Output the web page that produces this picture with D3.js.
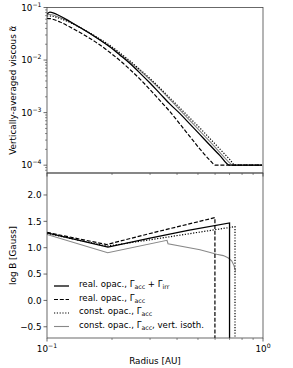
<!DOCTYPE html>
<html><head><meta charset="utf-8">
<script src="https://cdn.jsdelivr.net/npm/d3@7"></script>
<style>body{margin:0;background:#fff}svg{display:block}text{font-family:"DejaVu Sans",sans-serif;fill:#000}</style>
</head><body><svg id="c" width="293" height="368"></svg>
<script>
// ---- data (top panel: vertically-averaged viscous alpha) ----
const rTopRealIrr = [0.1,0.1032,0.1149,0.1278,0.1422,0.1582,0.176,0.1958,0.2178,0.2423,0.2695,0.2998,0.3336,0.3711,0.4128,0.4592,0.5109,0.5683,0.6322,0.70,0.99];
const alphaRealIrr = [0.0752,0.082,0.0689,0.0541,0.0416,0.032,0.024,0.0177,0.0124,0.00857,0.00565,0.00365,0.0023,0.00145,0.000957,0.000604,0.000381,0.00024,0.000152,0.0001,0.0001];
const rTopRealAcc = [0.1,0.1032,0.1149,0.1278,0.1422,0.1582,0.176,0.1958,0.2178,0.2423,0.2695,0.2998,0.3336,0.3711,0.4128,0.4592,0.5109,0.5683,0.603,0.99];
const alphaRealAcc = [0.0623,0.0615,0.0529,0.0425,0.0334,0.0257,0.0193,0.0139,0.00977,0.00659,0.00434,0.00274,0.00169,0.00104,0.000604,0.000349,0.000202,0.000124,0.0001,0.0001];
const rTopConst = [0.1,0.1032,0.1149,0.1278,0.1422,0.1582,0.176,0.1958,0.2178,0.2423,0.2695,0.2998,0.3336,0.3711,0.4128,0.4592,0.5109,0.5683,0.6322,0.7033,0.742,0.99];
const alphaConst = [0.0689,0.0689,0.0617,0.0518,0.0416,0.0327,0.0251,0.0189,0.0136,0.00957,0.00659,0.00445,0.00293,0.00189,0.00122,0.000786,0.000507,0.00032,0.000202,0.000127,0.0001,0.0001];
const rTopIsoth = [0.1,0.1032,0.1149,0.1278,0.1422,0.1582,0.176,0.1958,0.2178,0.2423,0.2695,0.2998,0.3336,0.3711,0.4128,0.4592,0.5109,0.5683,0.6322,0.7033,0.72,0.99];
const alphaIsoth = [0.0736,0.0736,0.0645,0.0529,0.0416,0.032,0.024,0.0181,0.013,0.00916,0.00631,0.00425,0.00281,0.00177,0.00112,0.000705,0.000445,0.000281,0.000173,0.000109,0.0001,0.0001];

// ---- data (bottom panel: log B [Gauss]) ----
const rBotRealIrr = [0.1,0.1915,0.30,0.45,0.70,0.70];
const logBRealIrr = [1.28,1.01,1.18,1.33,1.47,-2];
const rBotRealAcc = [0.1,0.189,0.30,0.599,0.599];
const logBRealAcc = [1.29,1.06,1.27,1.57,-2];
const rBotConst = [0.1,0.19,0.30,0.716,0.742,0.742];
const logBConst = [1.27,1.03,1.15,1.39,1.40,-2];
const rBotIsoth = [0.1,0.191,0.3594,0.3633,0.5109,0.6103,0.6549,0.6887,0.7161,0.7341,0.7459];
const logBIsoth = [1.25,0.905,1.14,1.075,0.96,0.875,0.85,0.81,0.75,0.66,0.56];

const legendLabels = [
  [["real. opac., Γ",""],["acc","sub"],[" + Γ",""],["irr","sub"]],
  [["real. opac., Γ",""],["acc","sub"]],
  [["const. opac., Γ",""],["acc","sub"]],
  [["const. opac., Γ",""],["acc","sub"],[", vert. isoth.",""]]
];
const topTickLabels = ["−1","−2","−3","−4"];
const bottomTickValues = [2.0,1.5,1.0,0.5,0.0,-0.5];
const xTickLabels = ["−1","0"];

// ---- styles ----
const styles = [
  {color:"#000", width:1.3, dash:null},
  {color:"#000", width:1.2, dash:"4,1.8"},
  {color:"#000", width:1.2, dash:"1.2,1.6"},
  {color:"#888", width:1.1, dash:null}
];

const svg = d3.select("#c");
const L = 47, R = 263, T1 = 7.5, B1 = 173, T2 = 173, B2 = 338;
const x = d3.scaleLog().domain([0.1,1]).range([L,R]);
const yTop = d3.scaleLog().domain([7.1e-5,0.1]).range([B1,T1]);
const yBot = d3.scaleLinear().domain([-0.713,2.417]).range([B2,T2]);
const fs = 8.8;

const defs = svg.append("defs");
defs.append("clipPath").attr("id","c1").append("rect").attr("x",L).attr("y",T1).attr("width",R-L).attr("height",B1-T1);
defs.append("clipPath").attr("id","c2").append("rect").attr("x",L).attr("y",T2).attr("width",R-L).attr("height",B2-T2);

function drawSeries(g, rs, vs, y, st, curve){
  const line = d3.line().x(d=>x(d[0])).y(d=>y(d[1])).curve(curve||d3.curveLinear);
  g.append("path").attr("d", line(rs.map((r,i)=>[r,vs[i]])))
    .attr("fill","none").attr("stroke",st.color).attr("stroke-width",st.width)
    .attr("stroke-dasharray",st.dash).attr("stroke-linejoin","miter");
}

// top panel
const g1 = svg.append("g").attr("clip-path","url(#c1)");
drawSeries(g1, rTopIsoth, alphaIsoth, yTop, styles[3], d3.curveMonotoneX);
drawSeries(g1, rTopConst, alphaConst, yTop, styles[2], d3.curveMonotoneX);
drawSeries(g1, rTopRealAcc, alphaRealAcc, yTop, styles[1], d3.curveMonotoneX);
drawSeries(g1, rTopRealIrr, alphaRealIrr, yTop, styles[0], d3.curveMonotoneX);

// bottom panel
const g2 = svg.append("g").attr("clip-path","url(#c2)");
drawSeries(g2, rBotIsoth, logBIsoth, yBot, styles[3]);
drawSeries(g2, rBotConst, logBConst, yBot, styles[2]);
drawSeries(g2, rBotRealAcc, logBRealAcc, yBot, styles[1]);
drawSeries(g2, rBotRealIrr, logBRealIrr, yBot, styles[0]);

// frames
const axColor = "#444";
[[T1,B1],[T2,B2]].forEach(([t,b])=>{
  svg.append("rect").attr("x",L).attr("y",t).attr("width",R-L).attr("height",b-t)
    .attr("fill","none").attr("stroke",axColor).attr("stroke-width",0.8);
});

// x ticks
const minorX = [0.2,0.3,0.4,0.5,0.6,0.7,0.8,0.9];
[B1,B2].forEach(yb=>{
  [0.1,1].forEach(v=>svg.append("line").attr("x1",x(v)).attr("x2",x(v)).attr("y1",yb).attr("y2",yb+3.5).attr("stroke",axColor).attr("stroke-width",0.8));
  minorX.forEach(v=>svg.append("line").attr("x1",x(v)).attr("x2",x(v)).attr("y1",yb).attr("y2",yb+2).attr("stroke",axColor).attr("stroke-width",0.6));
});
[0.1,1].forEach((v,i)=>{
  const t = svg.append("text").attr("x",x(v)).attr("y",B2+14).attr("text-anchor","middle").attr("font-size",fs);
  t.append("tspan").text("10");
  t.append("tspan").attr("dy",-4).attr("font-size",fs*0.7).text(xTickLabels[i]);
});

// top y ticks
[0.1,0.01,0.001,0.0001].forEach((v,i)=>{
  svg.append("line").attr("x1",L-3.5).attr("x2",L).attr("y1",yTop(v)).attr("y2",yTop(v)).attr("stroke",axColor).attr("stroke-width",0.8);
  const t = svg.append("text").attr("x",L-5.5).attr("y",yTop(v)+3.2).attr("text-anchor","end").attr("font-size",fs);
  t.append("tspan").text("10");
  t.append("tspan").attr("dy",-4).attr("font-size",fs*0.7).text(topTickLabels[i]);
});
[-5,-4,-3,-2].forEach(e=>{
  for(let m=2;m<=9;m++){
    const v = m*Math.pow(10,e);
    if(v<7.1e-5||v>0.1) continue;
    svg.append("line").attr("x1",L-2).attr("x2",L).attr("y1",yTop(v)).attr("y2",yTop(v)).attr("stroke",axColor).attr("stroke-width",0.6);
  }
});

// bottom y ticks
bottomTickValues.forEach(v=>{
  svg.append("line").attr("x1",L-3.5).attr("x2",L).attr("y1",yBot(v)).attr("y2",yBot(v)).attr("stroke",axColor).attr("stroke-width",0.8);
  svg.append("text").attr("x",L-5.5).attr("y",yBot(v)+3.2).attr("text-anchor","end").attr("font-size",fs)
    .text(d3.format(".1f")(v).replace("-","−"));
});

// axis labels
svg.append("text").attr("transform",`translate(16,${(T1+B1)/2}) rotate(-90)`).attr("text-anchor","middle").attr("font-size",fs).text("Vertically-averaged viscous α̃");
svg.append("text").attr("transform",`translate(16,${(T2+B2)/2}) rotate(-90)`).attr("text-anchor","middle").attr("font-size",fs).text("log B [Gauss]");
svg.append("text").attr("x",(L+R)/2).attr("y",364).attr("text-anchor","middle").attr("font-size",fs).text("Radius [AU]");

// legend
const legY0 = 286, legDY = 13.5;
legendLabels.forEach((parts,i)=>{
  const yy = legY0 + i*legDY;
  const st = styles[i];
  svg.append("line").attr("x1",54).attr("x2",69).attr("y1",yy).attr("y2",yy)
    .attr("stroke",st.color).attr("stroke-width",st.width).attr("stroke-dasharray",st.dash);
  const t = svg.append("text").attr("x",79).attr("y",yy+3).attr("font-size",8.6);
  parts.forEach(([s,k])=>{
    if(k==="sub") t.append("tspan").attr("font-size",6.2).attr("dy",1.6).text(s);
    else t.append("tspan").attr("dy", t.selectAll("tspan").size()? -1.6:0).text(s);
  });
});
</script></body></html>
